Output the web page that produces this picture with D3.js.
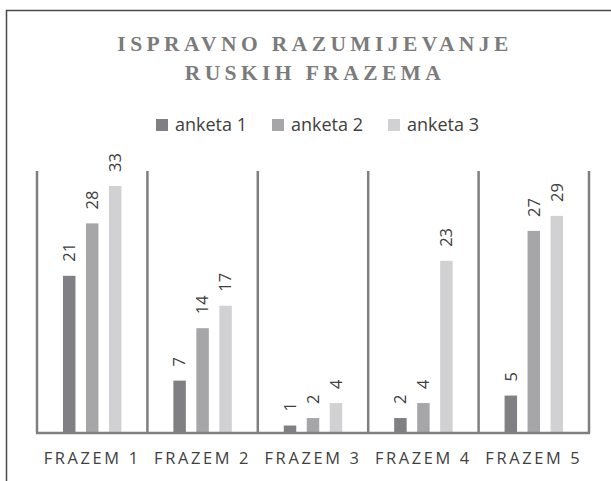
<!DOCTYPE html>
<html>
<head>
<meta charset="utf-8">
<script src="https://cdn.jsdelivr.net/npm/d3@7"></script>
<style>
  html, body { margin: 0; padding: 0; background: #fff; }
  svg { display: block; }
</style>
</head>
<body>
<svg id="chart" width="611" height="481"></svg>
<script>
const categories = ["FRAZEM 1", "FRAZEM 2", "FRAZEM 3", "FRAZEM 4", "FRAZEM 5"];
const seriesNames = ["anketa 1", "anketa 2", "anketa 3"];
const anketa1 = [21, 7, 1, 2, 5];
const anketa2 = [28, 14, 2, 4, 27];
const anketa3 = [33, 17, 4, 23, 29];
const titleLines = ["ISPRAVNO RAZUMIJEVANJE", "RUSKIH FRAZEMA"];
const seriesColors = ["#808084", "#a6a6a9", "#d1d1d3"];

const seriesValues = [anketa1, anketa2, anketa3];
const svg = d3.select("#chart");

// outer frame (cropped at right and bottom)
svg.append("rect")
  .attr("x", 6.5).attr("y", 10.5)
  .attr("width", 700).attr("height", 600)
  .attr("fill", "none").attr("stroke", "#4a4a4a").attr("stroke-width", 1.5);

// title
svg.append("text")
  .attr("text-anchor", "middle")
  .attr("font-family", "'Liberation Serif', 'Times New Roman', serif")
  .attr("font-weight", "bold")
  .attr("font-size", 21.5)
  .attr("letter-spacing", "4.4px")
  .attr("fill", "#7b7b7b")
  .selectAll("tspan").data(titleLines).join("tspan")
  .attr("x", 315).attr("y", (d, i) => 51 + i * 29)
  .text(d => d);

// scales
const x0 = d3.scaleBand().domain(categories).range([37, 589]).padding(0);
const x1 = d3.scaleBand().domain(seriesNames).range([0, x0.bandwidth()])
  .paddingInner(0.457).paddingOuter(1.13);
const y = d3.scaleLinear().domain([0, 35]).range([433, 171]);

const axisColor = "#7f7f7f";

// vertical separators
const bounds = categories.map(c => x0(c)).concat([x0.range()[1]]);
svg.append("g").selectAll("line").data(bounds).join("line")
  .attr("x1", d => d).attr("x2", d => d)
  .attr("y1", y(35)).attr("y2", y(0))
  .attr("stroke", axisColor).attr("stroke-width", 2.5);

// bars
const data = [];
categories.forEach((c, ci) => {
  seriesNames.forEach((s, si) => {
    data.push({ c, s, si, v: seriesValues[si][ci] });
  });
});

svg.append("g").selectAll("rect").data(data).join("rect")
  .attr("x", d => x0(d.c) + x1(d.s))
  .attr("y", d => y(d.v))
  .attr("width", x1.bandwidth())
  .attr("height", d => y(0) - y(d.v))
  .attr("fill", d => seriesColors[d.si]);

// baseline
svg.append("line")
  .attr("x1", x0.range()[0] - 1).attr("x2", x0.range()[1] + 1)
  .attr("y1", y(0)).attr("y2", y(0))
  .attr("stroke", axisColor).attr("stroke-width", 2.5);

// data labels (rotated)
svg.append("g").selectAll("text").data(data).join("text")
  .attr("transform", d => {
    const cx = x0(d.c) + x1(d.s) + x1.bandwidth() / 2 + 5.8;
    const cy = y(d.v) - 14;
    return `translate(${cx},${cy}) rotate(-90)`;
  })
  .attr("text-anchor", "start")
  .attr("font-family", "'Open Sans', sans-serif")
  .attr("font-size", 16.5)
  .attr("fill", "#404040")
  .text(d => d.v);

// category labels
svg.append("g").selectAll("text").data(categories).join("text")
  .attr("x", d => x0(d) + x0.bandwidth() / 2)
  .attr("y", 464)
  .attr("text-anchor", "middle")
  .attr("font-family", "'Open Sans', sans-serif")
  .attr("font-size", 16.4)
  .attr("letter-spacing", "2.65px")
  .attr("fill", "#404040")
  .text(d => d);

// legend
const legend = svg.append("g");
let cur = 156;
seriesNames.forEach((s, i) => {
  legend.append("rect")
    .attr("x", cur).attr("y", 119)
    .attr("width", 12).attr("height", 12)
    .attr("fill", seriesColors[i]);
  const t = legend.append("text")
    .attr("x", cur + 19).attr("y", 131)
    .attr("font-family", "'Open Sans', sans-serif")
    .attr("font-size", 18)
    .attr("fill", "#404040")
    .text(s);
  cur += 19 + t.node().getComputedTextLength() + 25;
});
</script>
</body>
</html>
